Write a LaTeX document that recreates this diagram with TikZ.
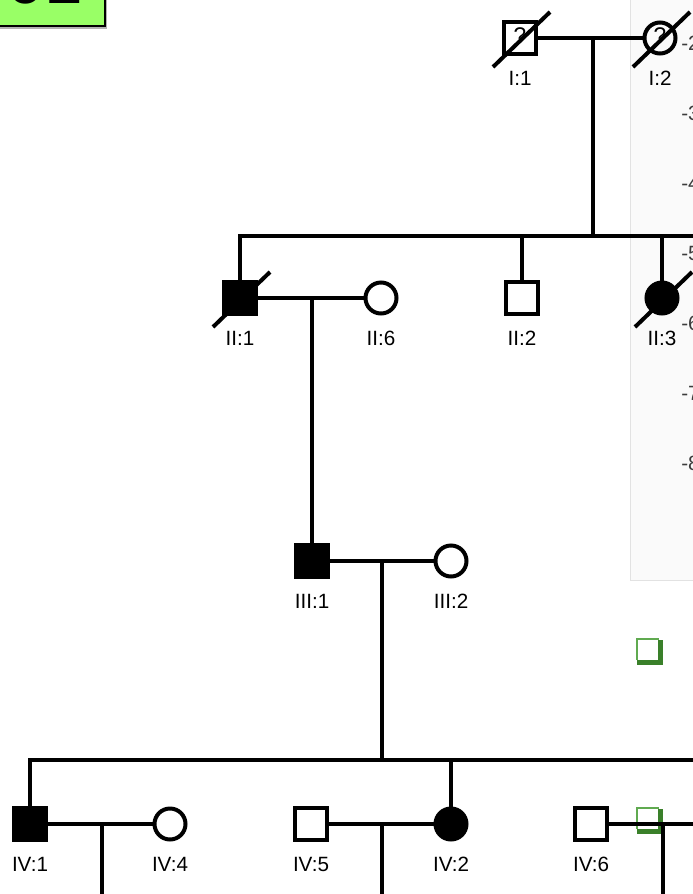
\documentclass[tikz,border=0pt]{standalone}
\usepackage{fontspec}
\setmainfont{Liberation Sans}
\usepackage{xcolor}
\definecolor{pedgreen}{RGB}{153,255,102}
\definecolor{iconlight}{RGB}{96,170,80}
\definecolor{icondark}{RGB}{58,128,42}
\definecolor{panelgray}{RGB}{250,250,250}
\definecolor{panelline}{RGB}{226,226,226}
\definecolor{ticktext}{RGB}{60,60,60}
\usetikzlibrary{positioning}

\begin{document}
\begin{tikzpicture}[x=0.75pt, y=-0.75pt,
  line/.style={line width=2.3pt},
  person/.style={draw, line width=3pt, inner sep=0pt,
    font=\fontsize{17}{17}\selectfont},
  male/.style={person, rectangle, minimum size=24pt},
  female/.style={person, circle, minimum size=23.25pt},
  affected/.style={fill=black},
  lbl/.style={font=\fontsize{15.5}{18}\selectfont, yshift=-8pt},
  tick/.style={anchor=west, inner sep=0pt, text=ticktext, font=\fontsize{15.5}{18}\selectfont},
  strike/.style={line width=3pt}]
  \useasboundingbox (0,0) rectangle (693,894);
  \clip (0,0) rectangle (693,894);

  % Side panel behind the chart
  \draw[panelline, fill=panelgray] (630,-10) rectangle (710,580);
  \foreach \t [count=\i from 0] in {2,...,8}
    \node[tick] (tick\t) at (681,{43+70*\i}) {-\t};

  % Edit icons
  \foreach \iy in {638,807} {
    \draw[icondark, line width=4pt] (660.5,{\iy+2}) -- (660.5,{\iy+24.5}) -- (637,{\iy+24.5});
    \draw[iconlight, line width=1.5pt] (637,{\iy+22}) -- (637,{\iy+0.5}) -- (659,{\iy+0.5});
  }

  % --- Generation I ---
  \node[male, label={[lbl]below:{I:1}}] (I1) at (520,38) {\raisebox{3pt}{?}};
  \node[female, label={[lbl]below:{I:2}}] (I2) at (660,38) {\raisebox{3pt}{?}};
  \coordinate (m1) at (593,38);
  \coordinate (s1) at (593,236);
  \coordinate (s1end) at (700,236);

  % --- Generation II ---
  \node[male, affected, label={[lbl]below:{II:1}}] (II1) at (240,298) {};
  \node[female, label={[lbl]below:{II:6}}] (II6) at (381,298) {};
  \node[male, label={[lbl]below:{II:2}}] (II2) at (522,298) {};
  \node[female, affected, label={[lbl]below:{II:3}}] (II3) at (662,298) {};
  \coordinate (m2) at (312,298);

  % --- Generation III ---
  \node[male, affected, label={[lbl]below:{III:1}}] (III1) at (312,561) {};
  \node[female, label={[lbl]below:{III:2}}] (III2) at (451,561) {};
  \coordinate (m3) at (382,561);
  \coordinate (s3) at (382,760);
  \coordinate (s3end) at (700,760);

  % --- Generation IV ---
  \node[male, affected, label={[lbl]below:{IV:1}}] (IV1) at (30,824) {};
  \node[female, label={[lbl]below:{IV:4}}] (IV4) at (170,824) {};
  \node[male, label={[lbl]below:{IV:5}}] (IV5) at (311,824) {};
  \node[female, affected, label={[lbl]below:{IV:2}}] (IV2) at (451,824) {};
  \node[male, label={[lbl]below:{IV:6}}] (IV6) at (591,824) {};
  \coordinate (m4) at (102,824);
  \coordinate (m4end) at (102,900);
  \coordinate (m5) at (382,824);
  \coordinate (m5end) at (382,900);
  \coordinate (IV6end) at (700,824);
  \coordinate (m6) at (663,824);
  \coordinate (m6end) at (663,900);

  % Connectors
  \draw[line] (I1) -- (I2);
  \draw[line] (m1) -- (s1);
  \draw[line] (II1) |- (s1end);
  \draw[line] (II2) -- (II2 |- s1);
  \draw[line] (II3) -- (II3 |- s1);
  \draw[line] (II1) -- (II6);
  \draw[line] (m2) -- (III1);
  \draw[line] (III1) -- (III2);
  \draw[line] (m3) -- (s3);
  \draw[line] (IV1) |- (s3end);
  \draw[line] (IV2) -- (IV2 |- s3);
  \draw[line] (IV1) -- (IV4);
  \draw[line] (m4) -- (m4end);
  \draw[line] (IV5) -- (IV2);
  \draw[line] (m5) -- (m5end);
  \draw[line] (IV6) -- (IV6end);
  \draw[line] (m6) -- (m6end);

  % Deceased marks
  \foreach \n in {I1,I2,II1,II3}
    \draw[strike] ([shift={(-27,29)}]\n.center) -- ([shift={(30,-26)}]\n.center);

  % Title box, cut by the top edge
  \fill[gray!60] (-5,-5) rectangle (107,28.5);
  \draw[fill=pedgreen, line width=1.5pt] (-5,-5) rectangle (105,26);
  \node[anchor=base west, inner sep=0pt, font=\fontsize{52}{52}\selectfont] (title) at (6,3) {01};
\end{tikzpicture}
\end{document}
